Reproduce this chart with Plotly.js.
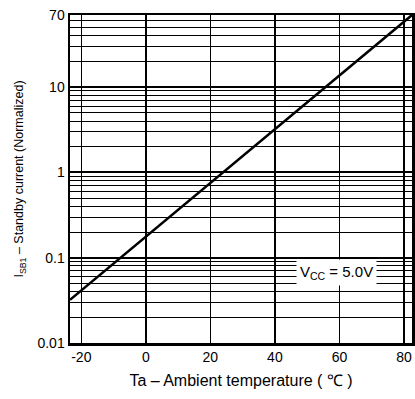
<!DOCTYPE html>
<html><head><meta charset="utf-8">
<script src="https://cdn.plot.ly/plotly-3.0.1.min.js"></script>
<style>html,body{margin:0;padding:0;background:#fff;}#chart{width:415px;height:399px;}</style>
</head><body><div id="chart"></div>
<script>
// Data
const temperature = [-23.5, 82.5];           // Ta (°C)
const standbyCurrent = [0.032, 70];          // ISB1 normalized
const xTickVals = [-20, 0, 20, 40, 60, 80];
const xTickText = ['-20', '0', '20', '40', '60', '80'];
const yTickVals = [0.01, 0.1, 1, 10, 70];
const yTickText = ['0.01', '0.1', '1', '10', '70'];

const minorY = [];
[0.01, 0.1, 1, 10].forEach(d => { for (let k = 2; k <= 9; k++) minorY.push(d * k); });

const font = {family: 'Liberation Sans, Arial, sans-serif', color: '#000'};

Plotly.newPlot('chart', [{
  x: temperature, y: standbyCurrent, mode: 'lines',
  line: {color: '#000', width: 2.5}, hoverinfo: 'skip', showlegend: false
}], {
  width: 415, height: 399,
  margin: {l: 70, r: 3, t: 15, b: 56},
  paper_bgcolor: '#fff', plot_bgcolor: '#fff',
  font: font,
  xaxis: {
    range: [-23.5, 82.5], tickmode: 'array', tickvals: xTickVals, ticktext: xTickText,
    showgrid: true, gridcolor: '#000', gridwidth: 1.5,
    showline: true, linecolor: '#000', linewidth: 2.5, mirror: true,
    zeroline: false, ticks: '', tickfont: {size: 14, family: font.family, color: '#000'},
    title: {text: 'Ta – Ambient temperature ( ℃ )', font: {size: 16, family: font.family, color: '#000'}, standoff: 11}
  },
  yaxis: {
    type: 'log', range: [-2, Math.log10(70)], tickmode: 'array', tickvals: yTickVals, ticktext: yTickText,
    showgrid: true, gridcolor: '#000', gridwidth: 2,
    minor: {tickmode: 'array', tickvals: minorY, showgrid: true, gridcolor: '#000', gridwidth: 1, ticks: ''},
    showline: true, linecolor: '#000', linewidth: 2.5, mirror: true,
    zeroline: false, ticks: '', tickfont: {size: 14, family: font.family, color: '#000'},
    title: {text: 'I<sub>SB1</sub> – Standby current (Normalized)', font: {size: 12.5, family: font.family, color: '#000'}, standoff: 11}
  },
  annotations: [{
    x: 59, y: Math.log10(0.067), xref: 'x', yref: 'y',
    text: 'V<sub>CC</sub> = 5.0V', showarrow: false,
    bgcolor: '#fff', font: {size: 15, family: font.family, color: '#000'}, borderpad: 3
  }]
}, {displayModeBar: false, staticPlot: true});
</script></body></html>
